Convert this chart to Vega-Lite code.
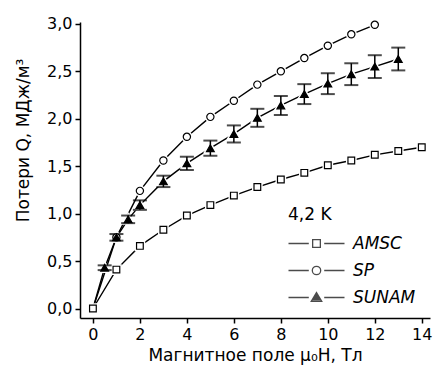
{
  "$schema": "https://vega.github.io/schema/vega-lite/v6.json",
  "width": 350,
  "height": 296,
  "autosize": "none",
  "padding": {"left": 80, "top": 22, "right": 4, "bottom": 56},
  "config": {
    "view": {"stroke": null},
    "font": "DejaVu Sans",
    "axis": {
      "grid": false,
      "domainColor": "black",
      "domainWidth": 1.5,
      "tickColor": "black",
      "tickWidth": 1.5,
      "labelColor": "black",
      "labelFontSize": 16,
      "titleColor": "black",
      "titleFontSize": 17,
      "titleFontWeight": "normal",
      "labelPadding": 3
    },
    "legend": {
      "titleColor": "black",
      "labelColor": "black"
    }
  },
  "data": {
    "values": [
      {"s": "AMSC", "H": 0, "Q": 0},
      {"s": "AMSC", "H": 1, "Q": 0.41},
      {"s": "AMSC", "H": 2, "Q": 0.66},
      {"s": "AMSC", "H": 3, "Q": 0.83},
      {"s": "AMSC", "H": 4, "Q": 0.98},
      {"s": "AMSC", "H": 5, "Q": 1.09},
      {"s": "AMSC", "H": 6, "Q": 1.19},
      {"s": "AMSC", "H": 7, "Q": 1.28},
      {"s": "AMSC", "H": 8, "Q": 1.36},
      {"s": "AMSC", "H": 9, "Q": 1.43},
      {"s": "AMSC", "H": 10, "Q": 1.51},
      {"s": "AMSC", "H": 11, "Q": 1.56},
      {"s": "AMSC", "H": 12, "Q": 1.62},
      {"s": "AMSC", "H": 13, "Q": 1.66},
      {"s": "AMSC", "H": 14, "Q": 1.7},
      {"s": "SP", "H": 0, "Q": 0},
      {"s": "SP", "H": 1, "Q": 0.75},
      {"s": "SP", "H": 2, "Q": 1.24},
      {"s": "SP", "H": 3, "Q": 1.56},
      {"s": "SP", "H": 4, "Q": 1.81},
      {"s": "SP", "H": 5, "Q": 2.02},
      {"s": "SP", "H": 6, "Q": 2.19},
      {"s": "SP", "H": 7, "Q": 2.36},
      {"s": "SP", "H": 8, "Q": 2.5},
      {"s": "SP", "H": 9, "Q": 2.64},
      {"s": "SP", "H": 10, "Q": 2.77},
      {"s": "SP", "H": 11, "Q": 2.89},
      {"s": "SP", "H": 12, "Q": 2.99},
      {"s": "SUNAM", "H": 0, "Q": 0, "e": 0},
      {"s": "SUNAM", "H": 0.5, "Q": 0.43, "e": 0.025},
      {"s": "SUNAM", "H": 1, "Q": 0.75, "e": 0.035},
      {"s": "SUNAM", "H": 1.5, "Q": 0.94, "e": 0.04},
      {"s": "SUNAM", "H": 2, "Q": 1.09, "e": 0.05},
      {"s": "SUNAM", "H": 3, "Q": 1.34, "e": 0.06},
      {"s": "SUNAM", "H": 4, "Q": 1.53, "e": 0.07},
      {"s": "SUNAM", "H": 5, "Q": 1.69, "e": 0.08},
      {"s": "SUNAM", "H": 6, "Q": 1.84, "e": 0.09},
      {"s": "SUNAM", "H": 7, "Q": 2.01, "e": 0.095},
      {"s": "SUNAM", "H": 8, "Q": 2.14, "e": 0.1},
      {"s": "SUNAM", "H": 9, "Q": 2.26, "e": 0.105},
      {"s": "SUNAM", "H": 10, "Q": 2.37, "e": 0.11},
      {"s": "SUNAM", "H": 11, "Q": 2.47, "e": 0.115},
      {"s": "SUNAM", "H": 12, "Q": 2.55, "e": 0.12},
      {"s": "SUNAM", "H": 13, "Q": 2.63, "e": 0.12}
    ]
  },
  "resolve": {"scale": {"shape": "independent"}},
  "layer": [
    {
      "mark": {"type": "line", "color": "black", "strokeWidth": 1.4},
      "encoding": {
        "x": {
          "field": "H", "type": "quantitative",
          "title": "Магнитное поле μ₀H, Тл",
          "scale": {"domain": [-0.55, 14.35], "nice": false, "zero": false},
          "axis": {
            "values": [0, 1, 2, 3, 4, 5, 6, 7, 8, 9, 10, 11, 12, 13, 14],
            "labelExpr": "datum.value % 2 == 0 ? datum.label : ''",
            "tickSize": {"condition": {"test": "datum.value % 2 == 1", "value": 3}, "value": 5},
            "titlePadding": 5
          }
        },
        "y": {
          "field": "Q", "type": "quantitative",
          "title": "Потери Q, МДж/м³",
          "scale": {"domain": [-0.1, 3.02], "nice": false, "zero": false},
          "axis": {
            "values": [0, 0.25, 0.5, 0.75, 1, 1.25, 1.5, 1.75, 2, 2.25, 2.5, 2.75, 3],
            "labelExpr": "round(datum.value * 2) == datum.value * 2 ? replace(format(datum.value, '.1f'), '.', ',') : ''",
            "tickSize": {"condition": {"test": "round(datum.value * 2) != datum.value * 2", "value": 3}, "value": 5},
            "titleY": 118,
            "titlePadding": 14
          }
        },
        "detail": {"field": "s"}
      }
    },
    {
      "transform": [{"filter": "datum.s == 'AMSC' || datum.H > 0"}],
      "mark": {"type": "point", "filled": true, "fill": "white", "stroke": "white", "strokeWidth": 4, "opacity": 1},
      "encoding": {
        "x": {"field": "H", "type": "quantitative", "title": "Магнитное поле μ₀H, Тл"},
        "y": {"field": "Q", "type": "quantitative", "title": "Потери Q, МДж/м³"},
        "shape": {"field": "s", "type": "nominal", "scale": {"domain": ["AMSC", "SP", "SUNAM"], "range": ["square", "circle", "triangle-up"]}, "legend": null},
        "size": {"field": "s", "type": "nominal", "scale": {"domain": ["AMSC", "SP", "SUNAM"], "range": [45, 60, 90]}, "legend": null}
      }
    },
    {
      "transform": [{"filter": "datum.s == 'SUNAM' && datum.H > 0"}],
      "mark": {"type": "errorbar", "color": "black", "thickness": 1.5, "ticks": {"size": 14, "thickness": 2, "color": "black"}},
      "encoding": {
        "x": {"field": "H", "type": "quantitative", "title": "Магнитное поле μ₀H, Тл"},
        "y": {"field": "Q", "type": "quantitative", "title": "Потери Q, МДж/м³"},
        "yError": {"field": "e"}
      }
    },
    {
      "transform": [{"filter": "datum.s == 'AMSC' || datum.H > 0"}],
      "mark": {"type": "point", "filled": true, "stroke": "black", "strokeWidth": 1.2, "opacity": 1},
      "encoding": {
        "x": {"field": "H", "type": "quantitative", "title": "Магнитное поле μ₀H, Тл"},
        "y": {"field": "Q", "type": "quantitative", "title": "Потери Q, МДж/м³"},
        "shape": {"field": "s", "type": "nominal", "scale": {"domain": ["AMSC", "SP", "SUNAM"], "range": ["square", "circle", "triangle-up"]}, "legend": null},
        "fill": {"field": "s", "type": "nominal", "scale": {"domain": ["AMSC", "SP", "SUNAM"], "range": ["white", "white", "black"]}, "legend": null},
        "size": {"field": "s", "type": "nominal", "scale": {"domain": ["AMSC", "SP", "SUNAM"], "range": [45, 60, 90]}, "legend": null}
      }
    },
    {
      "transform": [{"filter": "datum.H < 0"}],
      "mark": {"type": "point", "filled": false, "color": "black"},
      "encoding": {
        "x": {"field": "H", "type": "quantitative", "title": "Магнитное поле μ₀H, Тл"},
        "y": {"field": "Q", "type": "quantitative", "title": "Потери Q, МДж/м³"},
        "shape": {
          "field": "s", "type": "nominal",
          "scale": {
            "domain": ["AMSC", "SP", "SUNAM"],
            "range": [
              "M-4,0H-1.1M1.1,0H4M-0.55,-0.55H0.55V0.55H-0.55Z",
              "M-4,0H-1.1M1.1,0H4M-0.6,0A0.6,0.6,0,1,0,0.6,0A0.6,0.6,0,1,0,-0.6,0Z",
              "M-4,0H-1.1M1.1,0H4M0,-0.7L0.75,0.55L-0.75,0.55ZM0,-0.35L0.42,0.35L-0.42,0.35ZM0,-0.05L0.12,0.2L-0.12,0.2Z"
            ]
          },
          "legend": {
            "title": "4,2 K",
            "orient": "none",
            "legendX": 208,
            "legendY": 185,
            "padding": 0,
            "symbolOffset": 20,
            "symbolSize": 196,
            "symbolStrokeWidth": 1.3,
            "symbolStrokeColor": "black",
            "symbolFillColor": "transparent",
            "labelOffset": 28,
            "labelFontSize": 17,
            "labelFontStyle": "italic",
            "titleFontSize": 17,
            "titleFontWeight": "normal",
            "titlePadding": 11,
            "rowPadding": 9
          }
        }
      }
    }
  ]
}
